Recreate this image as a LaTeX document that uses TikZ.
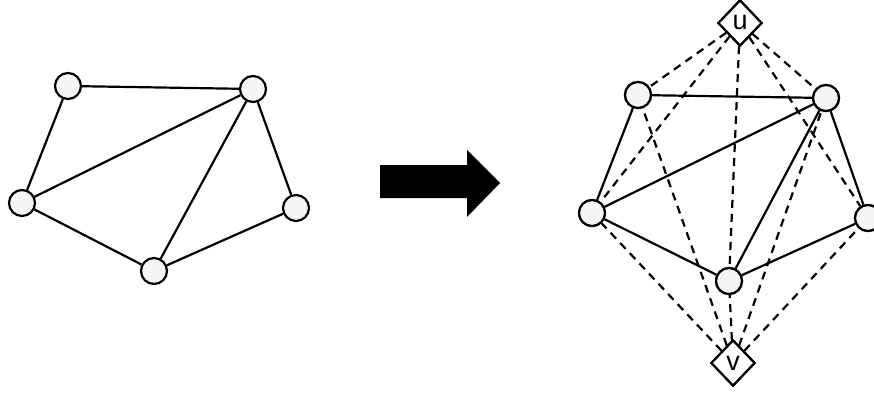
\documentclass[tikz,border=0pt]{standalone}
\usepackage{fontspec}
\setsansfont{Liberation Sans}
\usetikzlibrary{shapes.geometric}
\begin{document}
\begin{tikzpicture}[x=1pt,y=-1pt,
  vert/.style={circle,draw,line width=2.2pt,fill=gray!8,minimum size=26pt,inner sep=0pt},
  term/.style={diamond,draw,line width=2.2pt,fill=white,minimum width=44pt,minimum height=46pt,inner sep=0pt,font=\sffamily\fontsize{27}{27}\selectfont},
  edge/.style={line width=2.2pt},
  dedge/.style={line width=2.2pt,dash pattern=on 8pt off 6pt}]
\useasboundingbox (0,0) rectangle (874,393);
% left graph
\node[vert] (a) at (68,86) {};
\node[vert] (b) at (253,89) {};
\node[vert] (c) at (22,203) {};
\node[vert] (d) at (296,208) {};
\node[vert] (e) at (154,271) {};
\draw[edge] (a)--(b) (a)--(c) (b)--(c) (b)--(e) (b)--(d) (c)--(e) (e)--(d);
% arrow
\fill[black] (380,165) -- (467,165) -- (467,150) -- (500,183) -- (467,217) -- (467,198) -- (380,198) -- cycle;
% right graph
\node[term] (u) at (740,23) {u};
\node[term] (v) at (733,363) {v};
\node[vert] (a2) at (638,95) {};
\node[vert] (b2) at (826,98) {};
\node[vert] (c2) at (592,213) {};
\node[vert] (d2) at (868,218) {};
\node[vert] (e2) at (729,281) {};
\foreach \n in {a2,b2,c2,d2,e2}{
  \draw[dedge] (u)--(\n);
  \draw[dedge] (v)--(\n);
}
\draw[edge] (a2)--(b2) (a2)--(c2) (b2)--(c2) (b2)--(e2) (b2)--(d2) (c2)--(e2) (e2)--(d2);
\node[vert] at (a2) {};
\node[vert] at (b2) {};
\node[vert] at (c2) {};
\node[vert] at (d2) {};
\node[vert] at (e2) {};
\node[term] at (u) {u};
\node[term] at (v) {v};
\end{tikzpicture}
\end{document}
